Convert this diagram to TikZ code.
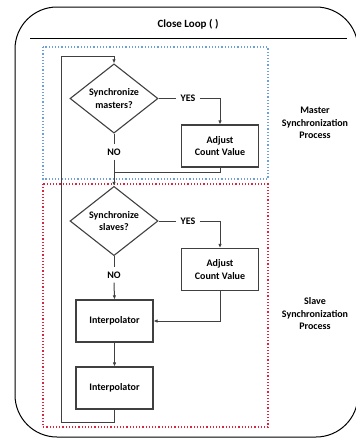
\documentclass[tikz,border=0pt]{standalone}
\usepackage{fontspec}
\setmainfont{Carlito}
\usetikzlibrary{arrows.meta}
\usetikzlibrary{shapes.geometric}
\tikzset{>={Latex[width=3.5pt,length=4pt]}}
\definecolor{masterblue}{RGB}{110,160,215}
\definecolor{slavered}{RGB}{220,35,65}

\begin{document}
\begin{tikzpicture}[x=1pt,y=-1pt,
    font=\fontsize{10}{12.5}\selectfont\bfseries,
    block/.style={draw=black!75, line width=1.1pt, minimum width=77pt, minimum height=42pt, align=center, inner sep=0pt},
    decision/.style={draw=black!75, line width=1.1pt, diamond, minimum width=88pt, minimum height=57pt, align=center, inner sep=0pt},
    flow/.style={draw=black!75, line width=1pt},
    answer/.style={inner sep=4pt}]

  \useasboundingbox (0,0) rectangle (356,439);

  \draw[line width=1pt, rounded corners=42pt] (15,7) rectangle (358,437);
  \draw[line width=1pt] (30,38) -- (347,38);
  \node (title) at (188,24) {\fontsize{11}{13}\selectfont Close Loop ( )};

  \draw[masterblue, dotted, line width=1.2pt] (43,47) rectangle (268,179);
  \draw[slavered, dotted, line width=1.2pt] (43,184) rectangle (268,427);

  \node[decision] (dm) at (114,98.5) {Synchronize\\masters?};
  \node[block] (am) at (220,146) {Adjust\\Count Value};
  \node[decision] (ds) at (114,221) {Synchronize\\slaves?};
  \node[block] (as) at (220,269.5) {Adjust\\Count Value};
  \node[block] (i1) at (114.5,321) {Interpolator};
  \node[block] (i2) at (114.5,388) {Interpolator};

  \node[answer] (ym) at (188,98.5) {YES};
  \node[answer] (nm) at (114,152) {NO};
  \node[answer] (ys) at (188,221) {YES};
  \node[answer] (ns) at (114,275) {NO};

  \node[align=center] (mlabel) at (315,123) {Master\\Synchronization\\Process};
  \node[align=center] (slabel) at (315,314) {Slave\\Synchronization\\Process};

  \coordinate (jm) at (114,172);
  \coordinate (lb) at (61,422);
  \coordinate (lt) at (61,56);

  % master part
  \draw[flow] (dm.east) -- (ym.west);
  \draw[flow,->] (ym.east) -| (am.north);
  \draw[flow] (dm.south) -- (nm.north);
  \draw[flow] (am.south) |- (jm);
  \draw[flow,->] (nm.south) -- (ds.north);

  % slave part
  \draw[flow] (ds.east) -- (ys.west);
  \draw[flow,->] (ys.east) -| (as.north);
  \draw[flow] (ds.south) -- (ns.north);
  \draw[flow,->] (ns.south) -- (i1.north);
  \draw[flow,->] (as.south) |- (i1.east);
  \draw[flow,->] (i1.south) -- (i2.north);

  % loop back
  \draw[flow,->] (i2.south) |- (lb) -- (lt) -| (dm.north);

\end{tikzpicture}
\end{document}
